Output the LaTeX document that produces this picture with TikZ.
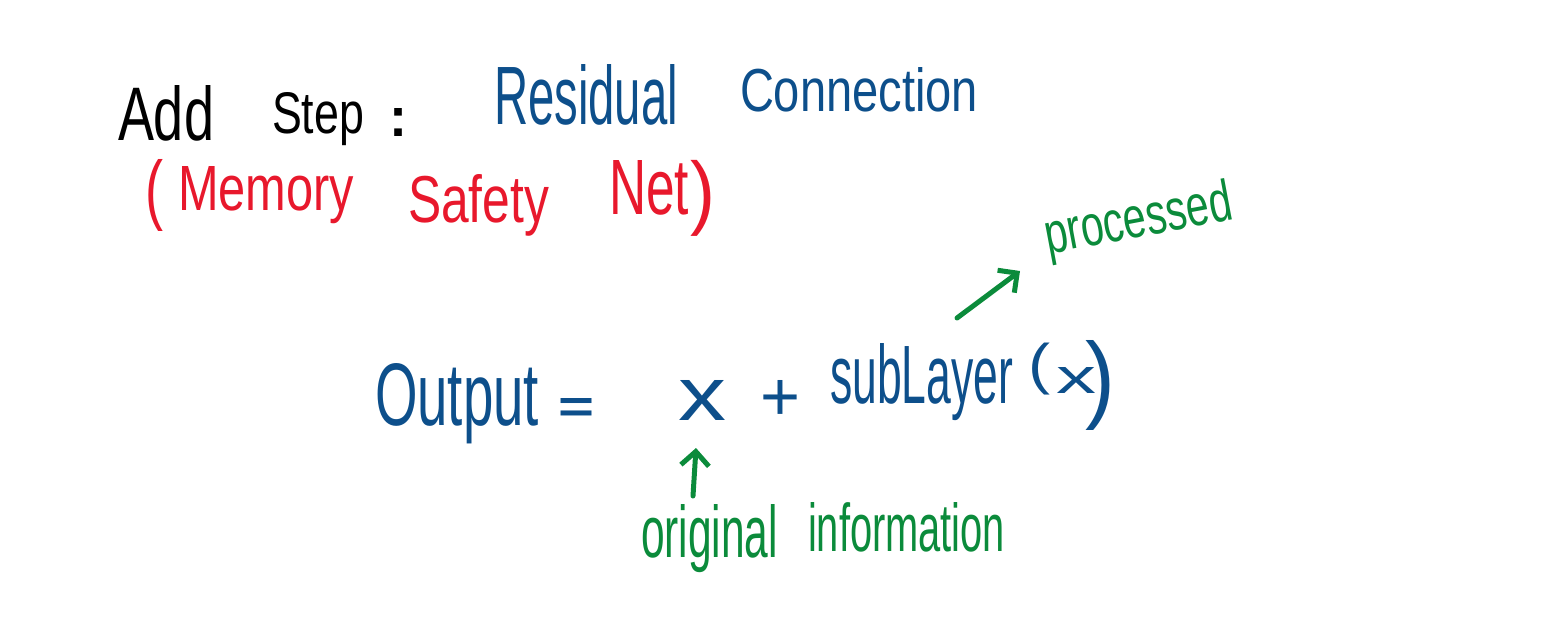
\documentclass[tikz,border=0pt]{standalone}
\usepackage{fontspec}
\setmainfont{Liberation Sans}
\usetikzlibrary{arrows.meta}
\definecolor{inkblue}{HTML}{0D4F8B}
\definecolor{inkred}{HTML}{E8182C}
\definecolor{inkgreen}{HTML}{0B8B3B}
\newcommand\fitbox[3]{\resizebox{#1pt}{#2pt}{#3}}
\newcommand\fitboxtot[3]{\resizebox*{#1pt}{#2pt}{#3}}
\begin{document}
\begin{tikzpicture}[x=1pt,y=-1pt,
  word/.style={inner sep=0pt, outer sep=0pt, anchor=base west},
  blk/.style={word, text=black},
  blu/.style={word, text=inkblue},
  rd/.style={word, text=inkred},
  grn/.style={word, text=inkgreen},
  garrow/.style={draw=inkgreen, line width=5pt, line cap=round, line join=round,
    -{Straight Barb[length=14pt,width=28pt]}}]
\path[use as bounding box] (0,0) rectangle (1555,638);

% title line
\node[blk] (add)  at (118,140) {\fitbox{96}{55}{Add}};
\node[blk] (step) at (272,133) {\fitbox{92}{41}{Step}};
\node[blk] (colon) at (389,136) {\fitbox{18}{28}{\bfseries :}};
\node[blu] (resid) at (494,124) {\fitbox{184}{60}{Residual}};
\node[blu] (conn) at (740,111) {\fitbox{238}{44}{Connection}};

% red line
\node[rd, anchor=north west] (lp) at (145,159) {\fitboxtot{18}{72}{(}};
\node[rd] (memory) at (178,210) {\fitbox{176}{44}{Memory}};
\node[rd] (safety) at (408,222) {\fitbox{141}{48}{Safety}};
\node[rd] (net) at (609,214) {\fitbox{80}{54}{Net}};
\node[rd, anchor=north west] (rp) at (690,160) {\fitboxtot{25}{76}{)}};

% formula
\node[blu] (output) at (375,425) {\fitbox{164}{62}{Output}};
\node[blu] (eq) at (558,422) {\fitbox{36}{24}{\bfseries =}};
\node[blu] (x) at (678,420) {\fitbox{48}{40}{x}};
\node[blu] (plus) at (760,420) {\fitbox{40}{40}{+}};
\node[blu] (sublayer) at (830,403) {\fitbox{183}{60}{subLayer}};
\node[blu, anchor=north west] (lp2) at (1028,343) {\fitboxtot{22}{52}{(}};
\node[blu] (x2) at (1056,393) {\fitbox{40}{26}{x}};
\node[blu, anchor=north west] (rp2) at (1085,340) {\fitboxtot{30}{90}{)}};

% green annotations
\node[grn] (original) at (641,557) {\fitbox{137}{53}{original}};
\node[grn] (information) at (808,551) {\fitbox{197}{49}{information}};
\node[grn, rotate=10.6] (processed) at (1048,254) {\fitbox{190}{42}{processed}};

\coordinate (a1s) at (693,496);
\coordinate (a1e) at (696,448);
\coordinate (a2s) at (957,318);
\coordinate (a2e) at (1020,271);
\draw[garrow] (a1s) -- (a1e);
\draw[garrow] (a2s) -- (a2e);
\end{tikzpicture}
\end{document}
